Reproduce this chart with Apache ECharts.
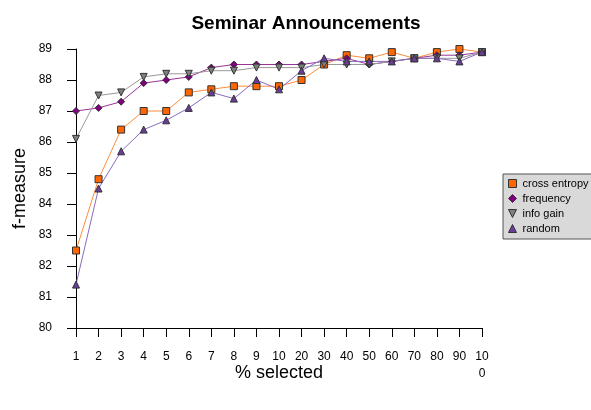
<!DOCTYPE html>
<html>
<head>
<meta charset="utf-8">
<script src="https://cdn.jsdelivr.net/npm/echarts@6/dist/echarts.min.js"></script>
<style>
    html, body { margin: 0; padding: 0; background: #fff; }
    #chart { width: 591px; height: 410px; }
</style>
</head>
<body>
<div id="chart"></div>
<script>
// % selected
var categories = ['1', '2', '3', '4', '5', '6', '7', '8', '9', '10', '20', '30', '40', '50', '60', '70', '80', '90', '100']

var crossEntropy = [82.5, 84.8, 86.4, 87.0, 87.0, 87.6, 87.7, 87.8, 87.8, 87.8, 88.0, 88.5, 88.8, 88.7, 88.9, 88.7, 88.9, 89.0, 88.9]
var frequency = [87.0, 87.1, 87.3, 87.9, 88.0, 88.1, 88.4, 88.5, 88.5, 88.5, 88.5, 88.6, 88.7, 88.5, 88.6, 88.7, 88.8, 88.8, 88.9]
var infoGain = [86.1, 87.5, 87.6, 88.1, 88.2, 88.2, 88.3, 88.3, 88.4, 88.4, 88.4, 88.5, 88.5, 88.5, 88.6, 88.7, 88.7, 88.7, 88.9]
var random = [81.4, 84.5, 85.7, 86.4, 86.7, 87.1, 87.6, 87.4, 88.0, 87.7, 88.3, 88.7, 88.6, 88.6, 88.6, 88.7, 88.7, 88.6, 88.9]

var yTicks = [80, 81, 82, 83, 84, 85, 86, 87, 88, 89]

var downTriangle = 'path://M0,0 L10,0 L5,10 Z'

function makeSeries(name, data, symbol, fill, line) {
    return {
        name: name,
        type: 'line',
        data: data,
        symbol: symbol,
        symbolSize: 7,
        animation: false,
        lineStyle: { color: line, width: 1 },
        itemStyle: { color: fill, borderColor: '#333', borderWidth: 1 }
    }
}

var chart = echarts.init(document.getElementById('chart'))
chart.setOption({
    backgroundColor: '#fff',
    textStyle: { fontFamily: 'Liberation Sans, Arial, sans-serif' },
    title: {
        text: 'Seminar Announcements',
        left: 301,
        textAlign: 'center',
        top: 9,
        textStyle: { fontSize: 19, fontWeight: 'bold', color: '#000' }
    },
    grid: { left: 76, right: 109, top: 49, bottom: 82, outerBoundsMode: 'none' },
    legend: {
        left: 503,
        top: 174,
        orient: 'vertical',
        itemWidth: 8,
        itemHeight: 8,
        itemGap: 4,
        padding: [4, 12, 5, 5],
        backgroundColor: '#d9d9d9',
        borderColor: '#555',
        borderWidth: 1,
        borderRadius: 0,
        textStyle: { fontSize: 11, color: '#000', padding: [0, 0, 0, 1] },
        data: [
            { name: 'cross entropy', icon: 'rect', itemStyle: { color: '#ff6600', borderColor: '#333', borderWidth: 1 } },
            { name: 'frequency', icon: 'diamond', itemStyle: { color: '#800080', borderColor: '#333', borderWidth: 1 } },
            { name: 'info gain', icon: downTriangle, itemStyle: { color: '#808080', borderColor: '#333', borderWidth: 1 } },
            { name: 'random', icon: 'triangle', itemStyle: { color: '#6a3d9a', borderColor: '#333', borderWidth: 1 } }
        ]
    },
    xAxis: {
        type: 'category',
        data: categories,
        boundaryGap: false,
        name: '% selected',
        nameLocation: 'middle',
        nameGap: 36,
        nameMoveOverlap: false,
        nameTextStyle: { fontSize: 18, color: '#000' },
        axisLine: { lineStyle: { color: '#000', width: 1 } },
        axisTick: { alignWithLabel: true, length: 9, lineStyle: { color: '#000' } },
        axisLabel: {
            color: '#000',
            fontSize: 12,
            margin: 20,
            interval: 0,
            lineHeight: 17,
            formatter: function (v) { return v === '100' ? '10\n0' : v }
        }
    },
    yAxis: {
        type: 'value',
        min: yTicks[0],
        max: yTicks[yTicks.length - 1],
        interval: 1,
        name: 'f-measure',
        nameLocation: 'middle',
        nameGap: 47,
        nameMoveOverlap: false,
        nameTextStyle: { fontSize: 18, color: '#000' },
        axisLine: { show: true, lineStyle: { color: '#000', width: 1 } },
        axisTick: { show: true, length: 9, lineStyle: { color: '#000' } },
        axisLabel: { color: '#000', fontSize: 12, margin: 24 },
        splitLine: { show: false }
    },
    series: [
        makeSeries('cross entropy', crossEntropy, 'rect', '#ff6600', '#ff8c3a'),
        makeSeries('frequency', frequency, 'diamond', '#800080', '#993399'),
        makeSeries('info gain', infoGain, downTriangle, '#808080', '#999999'),
        makeSeries('random', random, 'triangle', '#6a3d9a', '#8a6cc0')
    ]
})
</script>
</body>
</html>
